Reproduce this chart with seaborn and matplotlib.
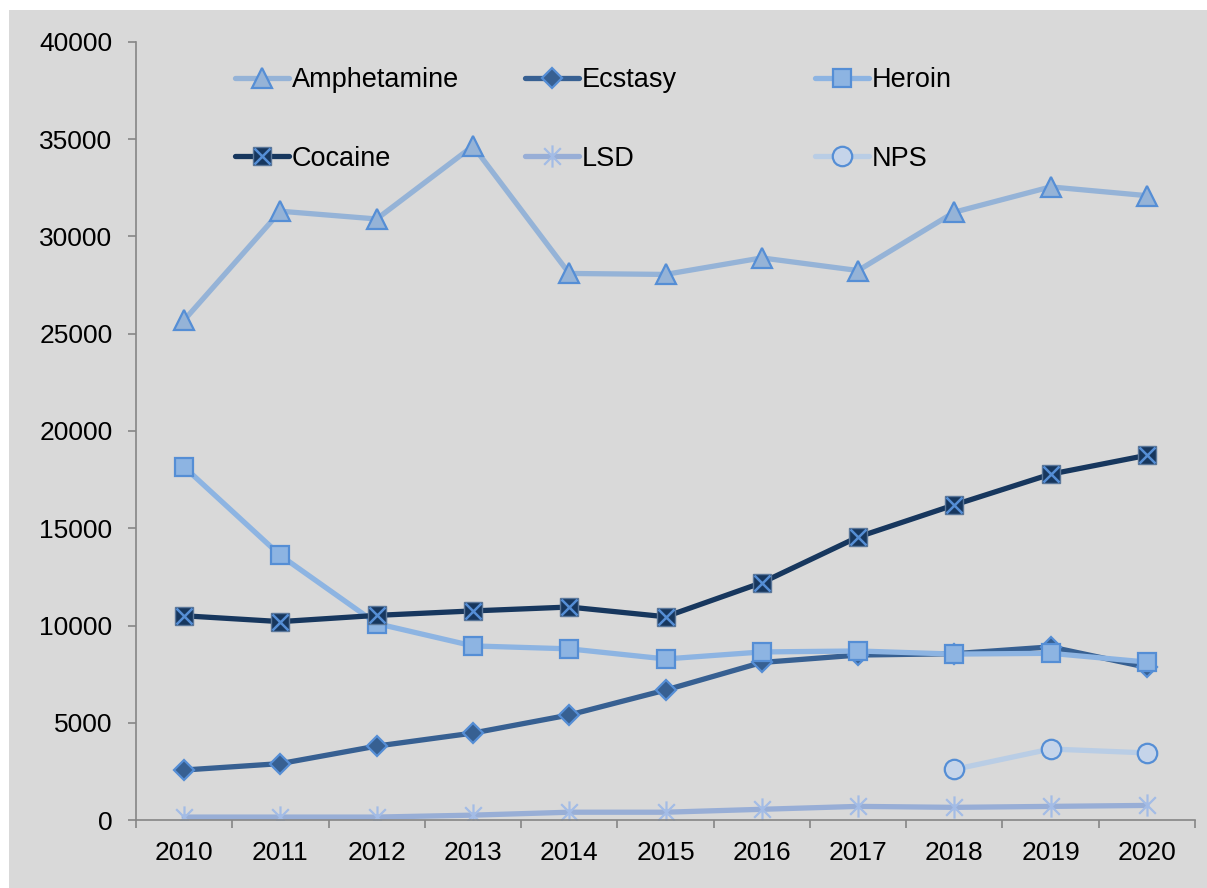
import matplotlib
matplotlib.use("Agg")
import matplotlib.pyplot as plt
from matplotlib.path import Path
from matplotlib.patches import Rectangle
from matplotlib.legend_handler import HandlerTuple
import numpy as np
import pandas as pd
import seaborn as sns

# Data
years = [2010, 2011, 2012, 2013, 2014, 2015, 2016, 2017, 2018, 2019, 2020]
amphetamine = [25700, 31300, 30900, 34650, 28100, 28050, 28900, 28250, 31250, 32550, 32100]
ecstasy = [2570, 2900, 3800, 4470, 5400, 6680, 8100, 8480, 8550, 8900, 7850]
heroin = [18150, 13600, 10100, 8950, 8800, 8280, 8640, 8690, 8530, 8570, 8120]
cocaine = [10500, 10200, 10520, 10750, 10950, 10450, 12200, 14550, 16200, 17780, 18750]
lsd = [150, 150, 150, 250, 400, 400, 550, 700, 650, 700, 750]
nps_years = [2018, 2019, 2020]
nps = [2600, 3650, 3450]
y_ticks = [0, 5000, 10000, 15000, 20000, 25000, 30000, 35000, 40000]

sns.set_theme(style="white")
plt.rcParams["font.family"] = ["Liberation Sans", "DejaVu Sans"]
plt.rcParams["text.color"] = "black"

BG = "#d9d9d9"
EDGE = "#558ed5"

fig = plt.figure(figsize=(12.07, 8.88), dpi=100, facecolor="white")
fig.patches.append(Rectangle((9 / 1207, 0), 1, 1 - 10 / 888, transform=fig.transFigure,
                             facecolor=BG, edgecolor="none", zorder=-10))
ax = fig.add_axes([136 / 1207, 1 - 820 / 888, (1195 - 136) / 1207, (820 - 42) / 888])
ax.set_facecolor(BG)

# Six-armed asterisk marker
asterisk = Path(
    [(0, -1), (0, 1), (-0.75, -0.75), (0.75, 0.75), (-0.75, 0.75), (0.75, -0.75)],
    [Path.MOVETO, Path.LINETO, Path.MOVETO, Path.LINETO, Path.MOVETO, Path.LINETO])

series = [
    ("Amphetamine", years, amphetamine, dict(color="#95b3d7", marker="^", markersize=14,
                                             markerfacecolor="#95b3d7", markeredgecolor=EDGE,
                                             markeredgewidth=1.6)),
    ("Ecstasy", years, ecstasy, dict(color="#376092", marker="D", markersize=10.5,
                                     markerfacecolor="#376092", markeredgecolor=EDGE,
                                     markeredgewidth=1.6)),
    ("Heroin", years, heroin, dict(color="#8db4e2", marker="s", markersize=13.5,
                                   markerfacecolor="#8db4e2", markeredgecolor=EDGE,
                                   markeredgewidth=1.6)),
    ("Cocaine", years, cocaine, dict(color="#17375e", marker="s", markersize=13.5,
                                     markerfacecolor="#17375e", markeredgecolor="#5b7799",
                                     markeredgewidth=1.0)),
    ("LSD", years, lsd, dict(color="#98aed6", marker=asterisk, markersize=16,
                             markerfacecolor="none", markeredgecolor="#a3bce6",
                             markeredgewidth=1.6)),
    ("NPS", nps_years, nps, dict(color="#b9cde5", marker="o", markersize=14,
                                 markerfacecolor="#c5d4ea", markeredgecolor=EDGE,
                                 markeredgewidth=1.6)),
]

cross_handle = None
for name, xs, ys, style in series:
    df = pd.DataFrame({"year": xs, "value": ys})
    sns.lineplot(data=df, x="year", y="value", ax=ax, label=name, linewidth=3.8,
                 legend=False, **style)
    if name == "Cocaine":
        # light cross drawn inside each cocaine square
        cross_handle, = ax.plot(xs, ys, linestyle="none", marker="x", markersize=11.5,
                                markeredgewidth=1.8, color=EDGE, label="_cross")

# Axes styling
ax.set_ylim(0, 40000)
ax.set_xlim(2009.5, 2020.5)
ax.set_yticks(y_ticks)
ax.set_yticklabels([str(v) for v in y_ticks])
ax.set_xticks(years)
ax.set_xticklabels([str(y) for y in years])
ax.set_xticks(np.arange(2009.5, 2021, 1.0), minor=True)
ax.set_xlabel("")
ax.set_ylabel("")
for side in ("top", "right"):
    ax.spines[side].set_visible(False)
for side in ("left", "bottom"):
    ax.spines[side].set_color("#868686")
    ax.spines[side].set_linewidth(1.2)
ax.tick_params(axis="y", which="major", left=True, length=6, width=1.2, color="#868686",
               pad=11, labelsize=19, labelcolor="black")
ax.tick_params(axis="x", which="major", bottom=False, length=0, pad=15,
               labelsize=19, labelcolor="black")
ax.tick_params(axis="x", which="minor", bottom=True, length=6, width=1.2, color="#868686")
ax.grid(False)

# Legend in three equal-width columns
handles, labels = ax.get_legend_handles_labels()
lookup = dict(zip(labels, handles))
lookup["Cocaine"] = (lookup["Cocaine"], cross_handle)
columns = [["Amphetamine", "Cocaine"], ["Ecstasy", "LSD"], ["Heroin", "NPS"]]
col_x = [235 / 1207, 525 / 1207, 815 / 1207]
for cx, names in zip(col_x, columns):
    leg = fig.legend([lookup[n] for n in names], names, loc="upper left",
                     bbox_to_anchor=(cx, 1 - 67 / 888), frameon=False, fontsize=19.5,
                     handlelength=2.0, handletextpad=0.1, labelspacing=1.95,
                     borderpad=0, borderaxespad=0, labelcolor="black",
                     handler_map={tuple: HandlerTuple(ndivide=1, pad=0)})

fig.savefig("out.png", dpi=100, facecolor="white")
